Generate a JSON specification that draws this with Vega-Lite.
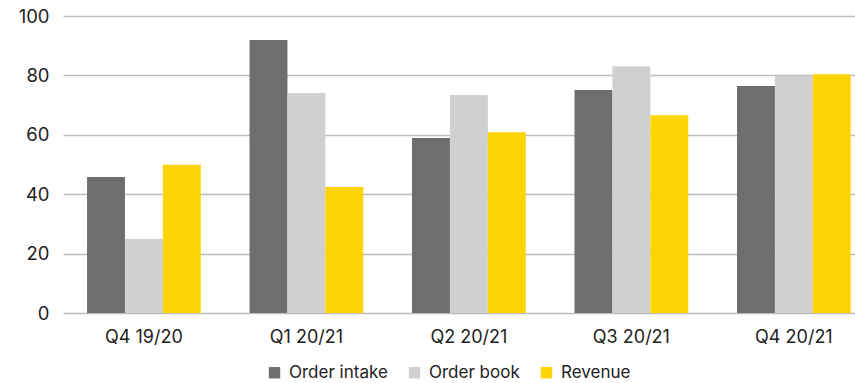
{
  "$schema": "https://vega.github.io/schema/vega-lite/v6.json",
  "autosize": "none",
  "width": 792,
  "height": 297,
  "padding": {"left": 63, "top": 16, "right": 0, "bottom": 70},
  "background": "white",
  "data": {"values": [
    {"quarter": "Q4 19/20", "series": "Order intake", "value": 45.8},
    {"quarter": "Q4 19/20", "series": "Order book", "value": 24.9},
    {"quarter": "Q4 19/20", "series": "Revenue", "value": 49.9},
    {"quarter": "Q1 20/21", "series": "Order intake", "value": 91.9},
    {"quarter": "Q1 20/21", "series": "Order book", "value": 74.1},
    {"quarter": "Q1 20/21", "series": "Revenue", "value": 42.4},
    {"quarter": "Q2 20/21", "series": "Order intake", "value": 58.9},
    {"quarter": "Q2 20/21", "series": "Order book", "value": 73.4},
    {"quarter": "Q2 20/21", "series": "Revenue", "value": 60.9},
    {"quarter": "Q3 20/21", "series": "Order intake", "value": 75.1},
    {"quarter": "Q3 20/21", "series": "Order book", "value": 83.1},
    {"quarter": "Q3 20/21", "series": "Revenue", "value": 66.6},
    {"quarter": "Q4 20/21", "series": "Order intake", "value": 76.4},
    {"quarter": "Q4 20/21", "series": "Order book", "value": 79.8},
    {"quarter": "Q4 20/21", "series": "Revenue", "value": 80.4}
  ]},
  "mark": {"type": "bar"},
  "encoding": {
    "x": {
      "field": "quarter", "type": "nominal", "sort": null,
      "scale": {"paddingInner": 0.3, "paddingOuter": 0.087, "align": 0.85},
      "axis": {"title": null, "labelAngle": 0, "domain": false, "ticks": false, "labelPadding": 15, "labelFontSize": 18, "labelFont": "Inter", "labelColor": "#222222"}
    },
    "xOffset": {"field": "series", "type": "nominal", "sort": ["Order intake", "Order book", "Revenue"], "scale": {"paddingInner": 0, "paddingOuter": 0}},
    "y": {
      "field": "value", "type": "quantitative",
      "scale": {"domain": [0, 100], "nice": false},
      "axis": {"title": null, "values": [0, 20, 40, 60, 80, 100], "domain": false, "ticks": false, "labelPadding": 14, "labelFontSize": 18.5, "labelFont": "Inter", "labelColor": "#222222", "gridColor": "#bdbdbd", "gridWidth": 1.5}
    },
    "color": {
      "field": "series", "type": "nominal",
      "sort": ["Order intake", "Order book", "Revenue"],
      "scale": {"domain": ["Order intake", "Order book", "Revenue"], "range": ["#6e6e6e", "#d0d0d0", "#fdd405"]},
      "legend": {
        "title": null, "orient": "none", "direction": "horizontal",
        "legendX": 203, "legendY": 348,
        "symbolType": "square", "symbolSize": 130, "symbolStrokeWidth": 0,
        "labelFontSize": 17, "labelFont": "Inter", "labelColor": "#222222",
        "columnPadding": 18, "labelOffset": 6,
        "encode": {"symbols": {"update": {"fill": {"signal": "datum.value === 'Order intake' ? '#4a4541' : datum.value === 'Order book' ? '#d0d0d0' : '#fdd405'"}, "opacity": {"value": 1}}}}
      }
    }
  },
  "config": {"view": {"stroke": null}}
}
